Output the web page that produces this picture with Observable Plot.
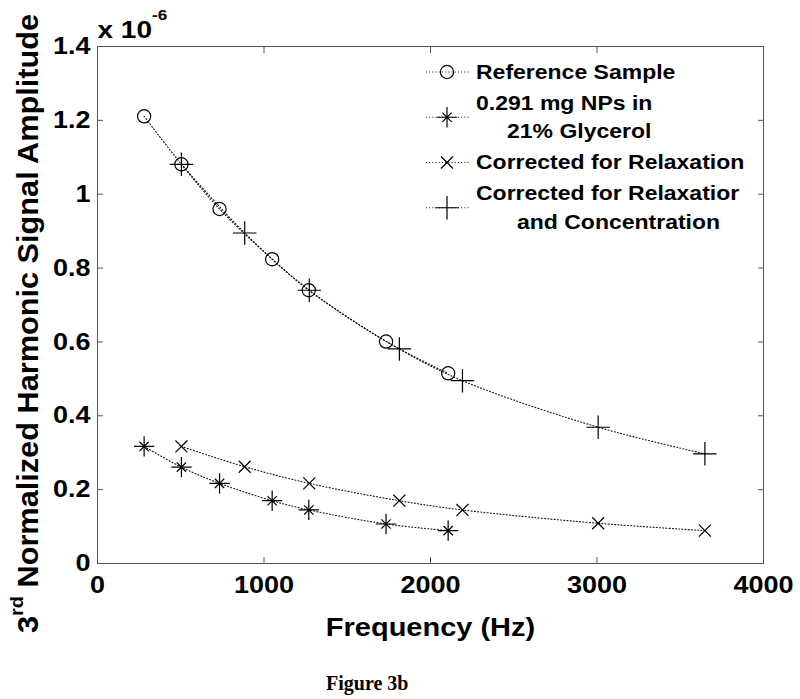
<!DOCTYPE html>
<html>
<head>
<meta charset="utf-8">
<script src="https://cdn.jsdelivr.net/npm/d3@7"></script>
<script src="https://cdn.jsdelivr.net/npm/@observablehq/plot@0.6"></script>
<style>
  body { margin: 0; background: #fff; }
  #chart svg { display: block; }
  #caption { margin: 7px 0 0 326px; height: 23px; line-height: 23px; font: bold 20px "Liberation Serif", "Times New Roman", serif; color: #000; }
</style>
</head>
<body>
<div id="chart"></div>
<div id="caption"></div>
<script>
// ---- data (amplitudes in units of 10^-6) ----
const seriesNames = ["Reference Sample", "0.291 mg NPs in\n21% Glycerol", "Corrected for Relaxation", "Corrected for Relaxatior\nand Concentration"];
const freqMeasured = [280, 504, 733, 1049, 1269, 1733, 2106];
const ampReference = [1.211, 1.081, 0.960, 0.824, 0.740, 0.601, 0.515];
const ampNPs = [0.317, 0.261, 0.217, 0.170, 0.145, 0.107, 0.089];
const freqCorrected = [504, 884, 1272, 1813, 2192, 3007, 3648];
const ampCorrRelax = [0.317, 0.262, 0.217, 0.170, 0.145, 0.109, 0.089];
const ampCorrRelaxConc = [1.081, 0.895, 0.740, 0.581, 0.495, 0.369, 0.297];
const xTicks = [0, 1000, 2000, 3000, 4000];
const yTicks = [0, 0.2, 0.4, 0.6, 0.8, 1.0, 1.2, 1.4];
const xLabel = "Frequency (Hz)";
const yLabel = "3^{rd} Normalized Harmonic Signal Amplitude";
const yExponent = "x 10^{-6}";
const captionText = "Figure 3b";

// ---- table ----
const rows = [];
function addSeries(name, fs, as) { fs.forEach((f, i) => rows.push({series: name, freq: f, amp: as[i]})); }
addSeries(seriesNames[0], freqMeasured, ampReference);
addSeries(seriesNames[1], freqMeasured, ampNPs);
addSeries(seriesNames[2], freqCorrected, ampCorrRelax);
addSeries(seriesNames[3], freqCorrected, ampCorrRelaxConc);
const of = (k) => rows.filter(d => d.series === seriesNames[k]);

const font = "'Liberation Sans', Arial, Helvetica, sans-serif";
const dotStyle = {x: "freq", y: "amp", stroke: "#000", fill: "none", strokeWidth: 1.2};

const plot = Plot.plot({
  width: 800, height: 665,
  marginLeft: 97, marginRight: 37, marginTop: 46, marginBottom: 102,
  style: {fontFamily: font, fontWeight: "bold", background: "#fff", color: "#000", overflow: "visible"},
  x: {domain: [0, 4000], label: null},
  y: {domain: [0, 1.4], label: null},
  marks: [
    Plot.frame({stroke: "#555", strokeWidth: 1}),
    Plot.axisX({anchor: "bottom", ticks: xTicks, tickSize: -6, tickPadding: 19, tickFormat: d => String(d), fontSize: 27, label: null, stroke: "#555", fill: "#000"}),
    Plot.axisX({anchor: "top", ticks: xTicks, tickSize: -6, tickFormat: () => "", label: null, stroke: "#555"}),
    Plot.axisY({anchor: "left", ticks: yTicks, tickSize: -6, tickPadding: 13, tickFormat: d => String(+d.toFixed(1)), fontSize: 27, label: null, stroke: "#555", fill: "#000"}),
    Plot.axisY({anchor: "right", ticks: yTicks, tickSize: -6, tickFormat: () => "", label: null, stroke: "#555"}),
    Plot.line(rows, {x: "freq", y: "amp", z: "series", curve: "catmull-rom", stroke: "#111", strokeWidth: 1.1, strokeDasharray: "1,2.2"}),
    Plot.dot(of(0), {...dotStyle, symbol: "circle", r: 6.6}),
    Plot.dot(of(1), {...dotStyle, symbol: "plus", r: 6.6}),
    Plot.dot(of(1), {...dotStyle, symbol: "times", r: 4.3}),
    Plot.dot(of(2), {...dotStyle, symbol: "times", r: 5.5}),
    Plot.dot(of(3), {...dotStyle, symbol: "plus", r: 7.6}),
    Plot.text([xLabel], {frameAnchor: "bottom", dy: 72, lineAnchor: "bottom", fontSize: 29, fill: "#000"}),
    Plot.text([yLabel], {frameAnchor: "left", rotate: -90, dx: -60, dy: 18.5, textAnchor: "middle", lineAnchor: "bottom", fontSize: 30.7, fill: "#000"}),
    Plot.text([yExponent], {frameAnchor: "top-left", dy: -9, textAnchor: "start", lineAnchor: "bottom", fontSize: 28, fill: "#000"})
  ]
});

document.getElementById("chart").appendChild(plot);
document.getElementById("caption").textContent = captionText;

const svg = d3.select(plot);

// ---- legend (drawn inside the frame, top right) ----
const legendSymbols = [
  [[d3.symbolCircle, 6.6]],
  [[d3.symbolPlus, 6.6], [d3.symbolTimes, 4.3]],
  [[d3.symbolTimes, 5.5]],
  [[d3.symbolPlus, 7.6]]
];
const legendLayout = {lineX0: 426, lineX1: 469, markerX: 447, textX: 476, firstBaseline: 79, entryGap: 31, lineGap: 28.5, fontSize: 23, contIndent: [0, 31, 0, 41]};
const lg = svg.append("g").attr("font-family", font).attr("font-weight", "bold").attr("font-size", legendLayout.fontSize).attr("text-anchor", "start");
let baseline = legendLayout.firstBaseline;
seriesNames.forEach((name, i) => {
  const lines = name.split("\n");
  const bases = lines.map((_, j) => baseline + j * legendLayout.lineGap);
  const my = d3.mean(bases) - 7;
  lg.append("line").attr("x1", legendLayout.lineX0).attr("x2", legendLayout.lineX1).attr("y1", my).attr("y2", my)
    .attr("stroke", "#111").attr("stroke-width", 1.1).attr("stroke-dasharray", "1,2.2");
  legendSymbols[i].forEach(([type, r]) => {
    lg.append("path").attr("d", d3.symbol(type, Math.PI * r * r)()).attr("transform", `translate(${legendLayout.markerX},${my})`)
      .attr("fill", "none").attr("stroke", "#000").attr("stroke-width", 1.2);
  });
  lines.forEach((t, j) => {
    lg.append("text").attr("x", legendLayout.textX + (j > 0 ? legendLayout.contIndent[i] : 0)).attr("y", bases[j]).attr("fill", "#000").text(t);
  });
  baseline = bases[bases.length - 1] + legendLayout.entryGap;
});

// ---- superscripts ----
const supSpec = {"3^{rd} Normalized Harmonic Signal Amplitude": {size: 20, shift: 15}, "x 10^{-6}": {size: 17, shift: 20}};
svg.selectAll("text").each(function () {
  const txt = this.textContent;
  if (!txt.includes("^{")) return;
  const spec = supSpec[txt] || {size: 16, shift: 10};
  const m = txt.match(/^(.*?)\^\{(.*?)\}(.*)$/);
  const el = d3.select(this);
  el.text(null);
  el.append("tspan").text(m[1]);
  el.append("tspan").attr("font-size", spec.size).attr("dy", -spec.shift).text(m[2]);
  if (m[3]) el.append("tspan").attr("dy", spec.shift).text(m[3]);
});

// ---- MATLAB-like glyph proportions: compress glyph height ----
svg.selectAll("text").each(function () {
  const t = this.getAttribute("transform") || "";
  const k = t.includes("rotate") ? 0.95 : 0.88;
  const x = +this.getAttribute("x") || 0, y = +this.getAttribute("y") || 0;
  this.setAttribute("transform", `${t} translate(${x},${y}) scale(1,${k}) translate(${-x},${-y})`);
});
</script>
</body>
</html>
